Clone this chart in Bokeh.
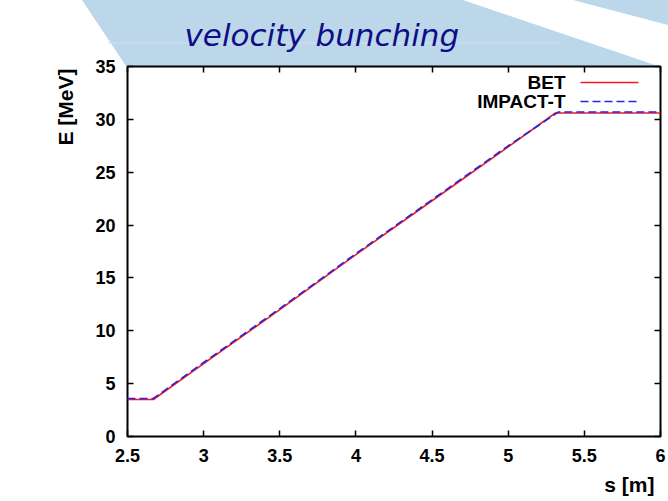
from bokeh.plotting import figure
from bokeh.models import (LinearAxis, FixedTicker, CustomJSTickFormatter, Label,
                          Range1d, Title)
from bokeh.embed import file_html
from bokeh.resources import INLINE

# Beam energy along the beamline
s_bet = [2.5, 2.67, 3.0, 3.5, 4.0, 4.5, 5.0, 5.31, 6.0]
e_bet = [3.5, 3.5, 6.9, 12.0, 17.2, 22.3, 27.4, 30.6, 30.6]

s_impact = [2.5, 2.67, 3.0, 3.5, 4.0, 4.5, 5.0, 5.33, 6.0]
e_impact = [3.6, 3.6, 7.0, 12.1, 17.3, 22.4, 27.5, 30.7, 30.7]

x_ticks = [2.5, 3, 3.5, 4, 4.5, 5, 5.5, 6]
y_ticks = [0, 5, 10, 15, 20, 25, 30, 35]

W, H = 668, 501
L, R, T, B = 127, 660, 66, 436
X0, X1 = 2.5, 6.0
Y0, Y1 = 0.0, 35.0

# screen units are measured from the frame's lower-left corner, y upward
def sx(px):
    return px - L

def sy(py):
    return B - py

# slide backdrop: light-blue bands behind the title, painted as the page background
backdrop = (
    "<svg xmlns='http://www.w3.org/2000/svg' width='668' height='501'>"
    "<polygon points='82,0 463,0 658,66 126,66' fill='%23bdd7ea'/>"
    "<polygon points='573,0 668,0 668,25' fill='%23bdd7ea'/>"
    "<rect x='108' y='42.5' width='452' height='1' fill='%23cfe1ef'/>"
    "</svg>"
)

p = figure(width=W, height=H, output_backend="svg", toolbar_location=None,
           x_range=Range1d(X0, X1), y_range=Range1d(Y0, Y1),
           min_border_left=L, min_border_right=W - R,
           min_border_top=T, min_border_bottom=H - B)
p.styles = {
    "background-color": "white",
    "background-image": 'url("data:image/svg+xml;utf8,' + backdrop + '")',
    "background-repeat": "no-repeat",
}

p.background_fill_color = "white"
p.border_fill_alpha = 0
p.outline_line_color = "black"
p.outline_line_width = 2
p.xgrid.visible = False
p.ygrid.visible = False

font = "Liberation Sans"
tick_fmt = CustomJSTickFormatter(code="return tick.toString();")

def style_axis(ax, show_labels):
    ax.axis_line_alpha = 0
    ax.major_tick_in = 6
    ax.major_tick_out = 0
    ax.minor_tick_line_alpha = 0
    ax.major_tick_line_width = 1.5
    ax.major_tick_line_color = "black"
    ax.major_label_text_font = font
    ax.major_label_text_font_style = "bold"
    ax.major_label_text_font_size = "18px"
    ax.major_label_text_color = "black"
    if not show_labels:
        ax.major_label_text_alpha = 0
        ax.major_label_text_font_size = "0px"
        ax.major_label_standoff = 0

p.xaxis.ticker = FixedTicker(ticks=x_ticks)
p.yaxis.ticker = FixedTicker(ticks=y_ticks)
p.xaxis.formatter = tick_fmt
p.yaxis.formatter = tick_fmt
style_axis(p.xaxis[0], True)
style_axis(p.yaxis[0], True)
p.xaxis.major_label_standoff = 12
p.yaxis.major_label_standoff = 12

top = LinearAxis(ticker=FixedTicker(ticks=x_ticks), formatter=tick_fmt)
right = LinearAxis(ticker=FixedTicker(ticks=y_ticks), formatter=tick_fmt)
style_axis(top, False)
style_axis(right, False)
p.add_layout(top, "above")
p.add_layout(right, "right")

red = "#f01c24"
blue = "#2424e6"
p.line(s_bet, e_bet, line_color=red, line_width=1.6)
p.line(s_impact, e_impact, line_color=blue, line_width=1.6, line_dash="8 4")

# key in the upper-right corner, text left of its sample line
def dx(px):
    return X0 + (px - L) * (X1 - X0) / (R - L)

def dy(py):
    return Y0 + (B - py) * (Y1 - Y0) / (B - T)

for name, col, dash, py in [("BET", red, "solid", 82), ("IMPACT-T", blue, "8 4", 101)]:
    p.add_layout(Label(x=sx(565), y=sy(py), x_units="screen", y_units="screen", text=name,
                       text_font=font, text_font_style="bold", text_font_size="19px",
                       text_align="right", text_baseline="middle", text_color="black"))
    p.line([dx(580), dx(638)], [dy(py), dy(py)], line_color=col, line_width=1.6,
           line_dash=dash)

# slide heading
p.title.text = "velocity bunching"
p.title.text_font = "DejaVu Sans"
p.title.text_font_style = "italic"
p.title.text_font_size = "31px"
p.title.text_color = "#0e0e86"
p.title.align = "left"
p.title.offset = 184 - L
p.title.standoff = 28
p.title.background_fill_alpha = 0

# axis names
ylab = Title(text="E [MeV]", align="right", offset=2, standoff=32,
             text_font=font, text_font_style="bold", text_font_size="21px",
             text_color="black")
p.add_layout(ylab, "left")
xlab = Title(text="s [m]", align="right", offset=6, standoff=12,
             text_font=font, text_font_style="bold", text_font_size="21px",
             text_color="black")
p.add_layout(xlab, "below")

open("out.html", "w").write(file_html(p, INLINE))
